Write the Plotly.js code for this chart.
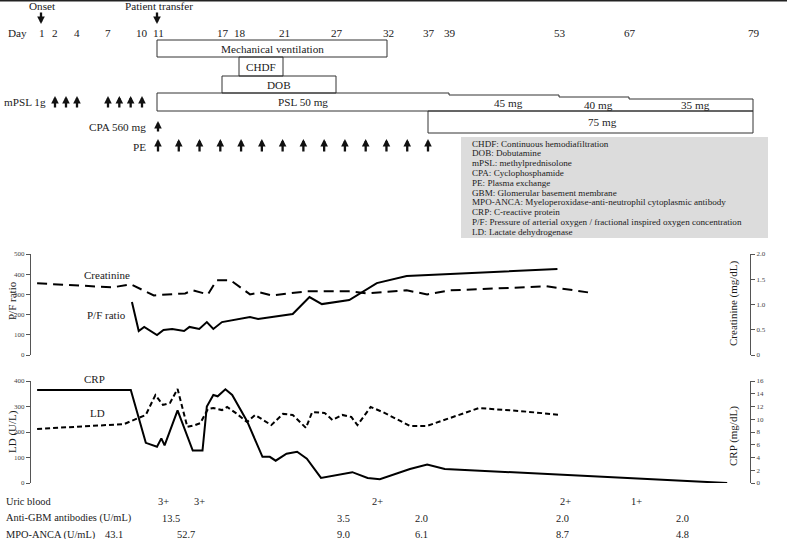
<!DOCTYPE html>
<html><head><meta charset="utf-8">
<script src="https://cdn.plot.ly/plotly-3.0.1.min.js"></script>
<style>html,body{margin:0;padding:0;background:#fff;}#chart{width:787px;height:539px;}</style>
</head><body><div id="chart"></div>
<script>
// ---------------- data ----------------
const dayAnchors = [1,2,4,7,10,11,17,18,21,27,32,37,39,53,67,79];
const dayLabels  = ['1','2','4','7','10','11','17','18','21','27','32','37','39','53','67','79'];

const onsetDay = 1, transferDay = 11;
const mechVent = [11,32], chdf = [18,21], dob = [17,27];
const mpslDays = [2,3,4,7,8,9,10];
const cpaDays = [11];
const peFirstDay = 11, peLastDay = 37, peSessions = 14;
const pslStartDays = [11,39,53,67];
const pslDoses = ['PSL 50 mg','45 mg','40 mg','35 mg'];
const pslEndDay = 79;
const drug75 = [37,79], drug75Label = '75 mg';

const pfDays  = [9.2,9.8,10.2,11,11.6,12.4,13.5,14.0,14.9,15.6,16.2,17,18.75,19.3,22.1,24,25.4,28.3,31,33.6,34.4,52.8];
const pfRatio = [262,119,139,99,124,129,119,139,129,163,129,163,188,178,203,287,252,272,356,386,391,426];

const creDays    = [0.7,7.5,9.1,10.8,13.6,14.3,15.7,16.5,17.5,18.75,19.4,20.25,23.7,28.3,30,31.3,34.4,36.9,39.1,51.4,58.8];
const creatinine = [1.42,1.34,1.40,1.18,1.22,1.28,1.20,1.48,1.48,1.20,1.24,1.18,1.26,1.26,1.22,1.24,1.28,1.20,1.28,1.36,1.24];

const ldDays = [0.7,4.4,8.5,10.3,10.9,11.55,12.2,12.9,13.8,14.5,15.0,15.7,16.2,17,17.3,17.8,18.55,19.1,20.2,21,22.1,23.6,24.3,25.7,26.6,27.6,28.5,29.1,30.4,31.6,34.8,36.9,39.1,42.8,48.1,53.4];
const ldVals = [212,220,231,267,345,306,314,369,220,227,235,290,294,286,298,275,239,267,227,271,267,216,278,275,247,267,259,227,298,278,224,224,255,294,282,267];

const crpDays = [0.7,9.1,10.3,11,11.4,11.7,12.9,14.3,15.2,15.6,16.2,16.6,17.2,17.6,18.55,19.6,20.1,20.5,21.4,22.6,23.7,25.3,28.6,30.1,31.3,32.7,34.8,36.9,38.6,76.5];
const crpVals = [14.6,14.6,6.3,5.7,7.0,5.9,11.4,5.1,5.1,12.0,13.8,13.6,14.7,13.8,9.7,4.1,4.1,3.5,4.6,4.9,3.8,0.8,1.7,0.8,0.6,1.3,2.2,2.9,2.2,0];

const pfTicks = [0,100,200,300,400,500];
const creTicks = [0,0.5,1,1.5,2], creTickText = ['0','0.5','1.0','1.5','2.0'];
const ldTicks = [0,100,200,300,400];
const crpTicks = [0,2,4,6,8,10,12,14,16];

const rowLabels = ['Uric blood','Anti-GBM antibodies (U/mL)','MPO-ANCA (U/mL)'];
const uricBlood = ['3+','3+','2+','2+','1+'];
const antiGBM   = ['13.5','3.5','2.0','2.0','2.0'];
const mpoAnca   = ['43.1','52.7','9.0','6.1','8.7','4.8'];

const glossary = [
 'CHDF: Continuous hemodiafiltration',
 'DOB: Dobutamine',
 'mPSL: methylprednisolone',
 'CPA: Cyclophosphamide',
 'PE: Plasma exchange',
 'GBM: Glomerular basement membrane',
 'MPO-ANCA: Myeloperoxidase-anti-neutrophil cytoplasmic antibody',
 'CRP: C-reactive protein',
 'P/F: Pressure of arterial oxygen / fractional inspired oxygen concentration',
 'LD: Lactate dehydrogenase'
];

// ---------------- layout helpers ----------------
const W = 787, H = 539;
const anchorPos = [41,54,76,107,141,157,222,239,283,336,387,428,449,559,629,753]; // schematic timeline scale
function d2x(d){
  const a = dayAnchors, p = anchorPos, n = a.length;
  let i = 0;
  if (d >= a[n-1]) i = n-2; else if (d > a[0]) { while (d > a[i+1]) i++; }
  return p[i] + (d - a[i]) * (p[i+1] - p[i]) / (a[i+1] - a[i]);
}
const FONT = "'Liberation Serif', 'Times New Roman', serif";
const TXT = '#1a1a1a';
const LINE = '#333';
const FS = 11.2;

const shapes = [];
const ann = [];
function txt(x, y, t, size, xa, extra){
  ann.push(Object.assign({xref:'x', yref:'y', x:x, y:y, text:t, showarrow:false,
    xanchor: xa || 'center', yanchor:'middle', font:{family:FONT, size:size, color:TXT}}, extra||{}));
}
function box(d0, d1, y0, y1){
  shapes.push({type:'rect', xref:'x', yref:'y', x0:d2x(d0), x1:d2x(d1), y0:y0, y1:y1,
    line:{color:LINE, width:1}, fillcolor:'rgba(0,0,0,0)'});
}
function arrow(x, yHead, len){
  ann.push({xref:'x', yref:'y', x:x, y:yHead, ax:0, ay:len, text:'', showarrow:true,
    arrowhead:2, arrowsize:0.66, arrowwidth:2.3, arrowcolor:'#111', standoff:0});
}

// top rule
shapes.push({type:'line', xref:'x', yref:'y', x0:0, x1:W, y0:0.8, y1:0.8, line:{color:'#222', width:1.5}});

// header events
txt(d2x(onsetDay)+1, 6, 'Onset', FS);
arrow(d2x(onsetDay), 24, -13);
txt(d2x(transferDay)+2, 6, 'Patient transfer', FS);
arrow(d2x(transferDay), 24, -13);

// day row
txt(17, 33, 'Day', FS);
dayAnchors.forEach((d,i)=> txt(d2x(d)+1, 33, dayLabels[i], FS));

// treatment boxes
box(mechVent[0], mechVent[1], 40, 57);
txt((d2x(mechVent[0])+d2x(mechVent[1]))/2, 48.5, 'Mechanical ventilation', FS);
box(chdf[0], chdf[1], 57, 76);
txt((d2x(chdf[0])+d2x(chdf[1]))/2, 66.5, 'CHDF', FS);
box(dob[0], dob[1], 76, 93);
txt((d2x(dob[0])+d2x(dob[1]))/2, 84.5, 'DOB', FS);

// PSL taper (stepped box)
(function(){
  const yBot = 111;
  const labY = [102, 103, 104.5, 105];
  let path = 'M' + d2x(pslStartDays[0]) + ',' + yBot;
  pslStartDays.forEach((d,i)=>{
    const yTop = 93 + i*2;
    const dEnd = i < pslStartDays.length-1 ? pslStartDays[i+1] : pslEndDay;
    path += ' L' + d2x(d) + ',' + yTop + ' L' + d2x(dEnd) + ',' + yTop;
    txt((d2x(d)+d2x(dEnd))/2 + (i===0?0:4), labY[i], pslDoses[i], FS);
  });
  path += ' L' + d2x(pslEndDay) + ',' + yBot + ' Z';
  shapes.push({type:'path', xref:'x', yref:'y', path:path, line:{color:LINE, width:1}});
})();
box(drug75[0], drug75[1], 111, 133);
txt((d2x(drug75[0])+d2x(drug75[1]))/2 + 12, 122, drug75Label, FS);

// mPSL, CPA, PE arrows
txt(2, 102, 'mPSL 1g', FS, 'left');
mpslDays.forEach(d => arrow(d2x(d)+1, 96, 13));
txt(148, 127, 'CPA 560 mg', FS, 'right');
cpaDays.forEach(d => arrow(d2x(d)+1, 121, 12));
txt(148, 147, 'PE', FS, 'right');
(function(){
  const x0 = d2x(peFirstDay)+1, x1 = d2x(peLastDay);
  for (let k=0; k<peSessions; k++) arrow(x0 + k*(x1-x0)/(peSessions-1), 139, 14);
})();

// glossary box
shapes.push({type:'rect', xref:'x', yref:'y', x0:461, x1:768, y0:137, y1:238,
  line:{width:0}, fillcolor:'#dcdcdc', layer:'below'});
glossary.forEach((g,i)=> txt(470, 143.5 + i*9.8, g, 9.1, 'left'));

// chart annotations
txt(107, 275, 'Creatinine', 11);
txt(106, 315, 'P/F ratio', 11);
txt(94, 379, 'CRP', 11);
txt(97, 413, 'LD', 11);
txt(12, 301, 'P/F ratio', 11, 'center', {textangle:-90});
txt(733, 303, 'Creatinine (mg/dL)', 11, 'center', {textangle:-90});
txt(12, 432, 'LD (U/L)', 11, 'center', {textangle:-90});
txt(733, 436, 'CRP (mg/dL)', 11, 'center', {textangle:-90});

// lab table
const TS = 10.4;
const rowY = [501.5, 518, 534.5];
rowLabels.forEach((r,i)=> txt(4, rowY[i], r, TS, 'left'));
const uricX = [163,199,377,565,636];
const gbmX  = [171,343,421,562,682];
const mpoX  = [114,186,343,421,562,682];
uricBlood.forEach((v,i)=> txt(uricX[i], rowY[0], v, TS));
antiGBM.forEach((v,i)=> txt(gbmX[i], rowY[1], v, TS));
mpoAnca.forEach((v,i)=> txt(mpoX[i], rowY[2], v, TS));

// ---------------- traces ----------------
const traces = [
  {x: pfDays.map(d2x), y: pfRatio, xaxis:'x', yaxis:'y2', mode:'lines', name:'P/F ratio',
   line:{color:'#000', width:2}},
  {x: creDays.map(d2x), y: creatinine, xaxis:'x', yaxis:'y3', mode:'lines', name:'Creatinine',
   line:{color:'#000', width:2, dash:'10px,6px'}},
  {x: crpDays.map(d2x), y: crpVals, xaxis:'x', yaxis:'y5', mode:'lines', name:'CRP',
   line:{color:'#000', width:2}},
  {x: ldDays.map(d2x), y: ldVals, xaxis:'x', yaxis:'y4', mode:'lines', name:'LD',
   line:{color:'#000', width:2, dash:'5px,3px'}}
];

const axCommon = {showgrid:false, zeroline:false, showline:true, linecolor:'#555', linewidth:1,
  ticks:'outside', ticklen:4, tickwidth:1, tickcolor:'#555',
  tickfont:{family:FONT, size:7, color:'#444'}, fixedrange:true, anchor:'free'};
const posL = 30/W, posR = 750/W;
const dom1 = [1-355/H, 1-254/H], dom2 = [1-483/H, 1-381/H];

const layout = {
  width: W, height: H, margin:{l:0, r:0, t:0, b:0},
  paper_bgcolor:'#fff', plot_bgcolor:'rgba(0,0,0,0)', showlegend:false,
  font:{family:FONT, color:TXT},
  xaxis:{domain:[0,1], range:[0,W], visible:false, fixedrange:true, anchor:'y'},
  yaxis:{domain:[0,1], range:[H,0], visible:false, fixedrange:true},
  yaxis2: Object.assign({}, axCommon, {domain:dom1, range:[0,500], position:posL, side:'left', tickvals:pfTicks}),
  yaxis3: Object.assign({}, axCommon, {overlaying:'y2', range:[0,2], position:posR, side:'right', tickvals:creTicks, ticktext:creTickText}),
  yaxis4: Object.assign({}, axCommon, {domain:dom2, range:[0,400], position:posL, side:'left', tickvals:ldTicks}),
  yaxis5: Object.assign({}, axCommon, {overlaying:'y4', range:[0,16], position:posR, side:'right', tickvals:crpTicks}),
  shapes: shapes,
  annotations: ann
};

Plotly.newPlot('chart', traces, layout, {displayModeBar:false, staticPlot:true});
</script>
</body></html>
